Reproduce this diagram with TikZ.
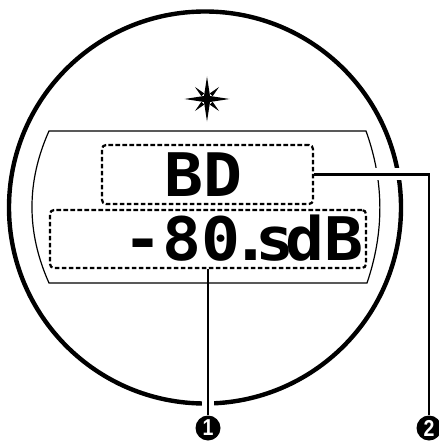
\documentclass[tikz,border=0pt]{standalone}
\usepackage{fontspec}
\newfontfamily\lcdfont[FakeStretch=1.08]{DejaVu Sans Mono}
\newfontfamily\labfont[FakeStretch=0.85]{Liberation Sans}
\begin{document}
\begin{tikzpicture}[x=1bp,y=-1bp,
  ring/.style={line width=4.4bp},
  panel/.style={line width=1.2bp},
  dbox/.style={draw, dash pattern=on 4.6bp off 2.4bp, line width=2.2bp, rounded corners=4bp, inner sep=0pt},
  lcd/.style={font=\lcdfont\bfseries\fontsize{60bp}{60bp}\selectfont, inner sep=0pt},
  lead/.style={line width=2.2bp},
  halo/.style={white, line width=12bp},
  numlab/.style={circle, fill=black, text=white, minimum size=25bp, inner sep=0pt,
                 font=\labfont\bfseries\fontsize{23bp}{23bp}\selectfont}]
\useasboundingbox (0,0) rectangle (439,441);
% outer ring
\draw[ring] (205,207.5) circle[radius=196bp];
% display panel
\draw[panel] (49,131) -- (366,131) .. controls (384.3,181.7) and (384.3,232.3) .. (367,283)
  -- (49,283) .. controls (26.3,232.3) and (26.3,181.7) .. cycle;
% dashed fields
\node[dbox, minimum width=211bp, minimum height=59bp] (bdbox) at (207.5,174.5) {};
\node[dbox, minimum width=316bp, minimum height=58bp] (volbox) at (208,239) {};
% gaps where leaders cross
\coordinate (h1a) at (208,385);
\coordinate (h1b) at (208,413);
\coordinate (h2a) at (370,174.5);
\coordinate (h2b) at (414,174.5);
\draw[halo] (h1a) -- (h1b);
\draw[halo] (h2a) -- (h2b);
% star
\begin{scope}[shift={(207,99)}]
  \fill (0,-22.5) -- (3,-3) -- (22.5,0) -- (3,3) -- (0,22.5) -- (-3,3) -- (-22.5,0) -- (-3,-3) -- cycle;
  \foreach \a in {45,135,225,315}
    \fill[rotate=\a] (6,-2) -- (17,0) -- (6,2) -- cycle;
\end{scope}
% texts
\node[lcd, anchor=base west] (bdtxt) at (164,197) {BD};
\node[lcd, anchor=base west] (voltxt) at (123,260) {-80\kern-8.5bp.\kern-15.5bp s\kern-9bp dB};
% labels
\node[numlab] (lab1) at (208,428) {1};
\node[numlab] (lab2) at (429,428) {2};
% leaders
\draw[lead] (volbox.south) -- (lab1.north);
\draw[lead] (bdbox.east) -| (lab2.north);
\end{tikzpicture}
\end{document}
